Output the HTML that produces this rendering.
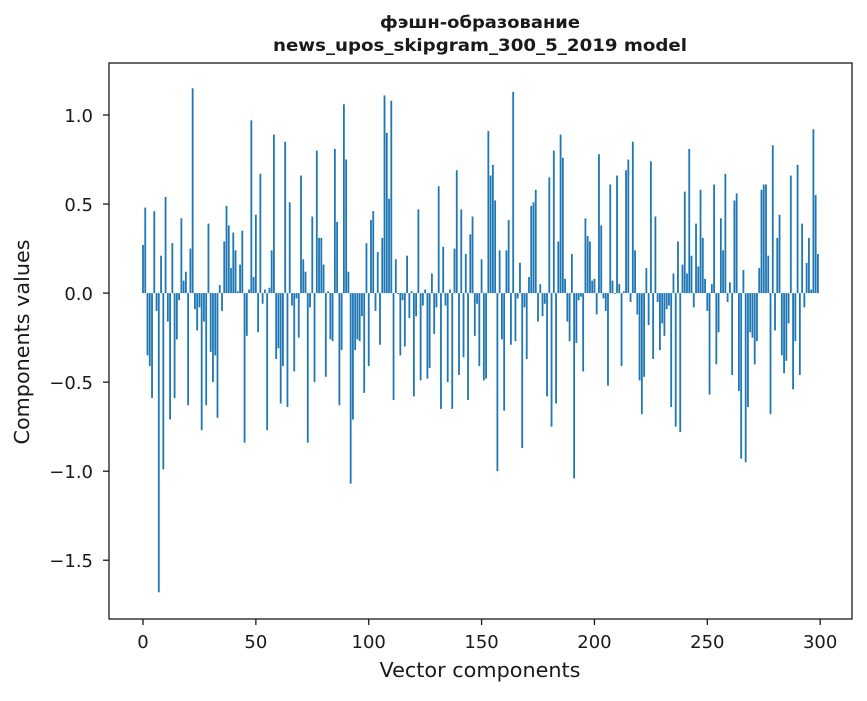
<!DOCTYPE html>
<html><head><meta charset="utf-8"><style>
body{margin:0;background:#fff;}
svg text{font-family:"DejaVu Sans","Liberation Sans",sans-serif;fill:#1a1a1a;}
</style></head><body>
<svg id="chart" width="867" height="696" xmlns="http://www.w3.org/2000/svg">
<rect width="867" height="696" fill="#fff"/>
<text x="480" y="28" text-anchor="middle" font-size="16.5" font-weight="bold" textLength="200" lengthAdjust="spacingAndGlyphs">фэшн-образование</text>
<text x="480" y="51" text-anchor="middle" font-size="16.5" font-weight="bold" textLength="414" lengthAdjust="spacingAndGlyphs">news_upos_skipgram_300_5_2019 model</text>
<g id="bars"></g>
<g id="axes"></g>
<text x="480" y="677" text-anchor="middle" font-size="20" textLength="201" lengthAdjust="spacingAndGlyphs">Vector components</text>
<text transform="translate(29,342) rotate(-90)" text-anchor="middle" font-size="20" textLength="205" lengthAdjust="spacingAndGlyphs">Components values</text>
</svg>
<script>
const values = [0.27,0.48,-0.35,-0.41,-0.59,0.46,-0.10,-1.68,0.21,-0.99,
0.54,-0.16,-0.71,0.28,-0.59,-0.26,-0.04,0.42,0.07,0.12,
-0.63,0.25,1.15,-0.09,-0.21,-0.08,-0.77,-0.16,-0.63,0.39,
-0.33,-0.50,-0.35,-0.70,0.045,-0.10,0.29,0.49,0.38,0.14,
0.34,0.24,0.01,0.16,0.35,-0.84,-0.24,0.02,0.97,0.09,
0.44,-0.22,0.67,-0.06,0.02,-0.77,0.03,0.24,0.89,-0.37,
-0.31,-0.62,-0.41,0.85,-0.64,0.51,-0.07,-0.44,-0.03,-0.25,
0.66,0.19,0.12,-0.84,-0.08,0.43,-0.50,0.80,0.31,0.31,
0.16,-0.47,0.01,-0.26,-0.27,0.81,0.40,-0.63,-0.32,1.06,
0.75,0.12,-1.07,-0.71,-0.32,-0.26,-0.27,-0.13,-0.56,0.28,
-0.41,0.41,0.46,-0.10,0.23,-0.29,0.31,1.11,0.90,0.53,
1.08,-0.60,0.19,-0.005,-0.35,-0.04,-0.30,0.21,-0.14,0.01,
-0.58,-0.13,0.47,-0.49,-0.07,0.02,-0.48,-0.42,0.11,-0.23,
-0.08,0.60,-0.65,0.26,-0.07,-0.50,0.02,-0.65,0.25,0.69,
-0.46,0.47,-0.36,0.22,-0.60,0.33,0.43,-0.24,-0.06,-0.41,
0.19,-0.49,-0.48,0.91,0.66,0.72,0.52,-1.00,0.24,-0.26,
-0.66,0.24,0.41,-0.29,1.13,-0.27,-0.03,0.17,-0.87,-0.08,
-0.37,0.09,0.49,0.51,0.58,-0.16,0.05,-0.13,-0.06,-0.58,
0.65,-0.75,0.80,-0.62,0.29,0.89,0.76,0.08,-0.16,-0.27,
0.22,-1.04,-0.28,-0.04,-0.02,-0.44,0.42,0.32,0.29,0.07,
0.08,-0.12,0.78,0.38,-0.03,-0.10,-0.52,0.61,0.07,-0.005,
0.66,0.05,-0.41,0.01,0.69,0.75,-0.05,0.85,0.24,-0.12,
-0.49,-0.68,-0.47,0.14,-0.18,0.74,-0.37,0.43,-0.05,-0.32,
-0.17,-0.24,-0.09,-0.07,-0.64,0.11,-0.75,0.29,-0.78,0.16,
0.57,0.11,0.81,0.21,-0.08,0.39,0.15,0.58,0.31,0.08,
-0.10,-0.57,0.05,0.61,-0.40,-0.22,0.42,0.24,0.67,-0.05,
0.06,-0.46,0.52,0.56,-0.55,-0.93,0.13,-0.95,-0.64,-0.22,
-0.25,-0.40,-0.27,0.14,0.58,0.61,0.61,0.21,-0.68,0.83,
-0.21,0.31,0.44,-0.35,-0.45,-0.38,-0.17,0.66,-0.54,-0.27,
0.72,-0.46,0.39,-0.08,0.17,0.31,0.02,0.92,0.55,0.22];
const xTicks = [0,50,100,150,200,250,300];
const yTicks = [1.0,0.5,0.0,-0.5,-1.0,-1.5];
const yTickLabels = ["1.0","0.5","0.0","\u22121.5".replace("1.5","0.5"),"\u22121.0","\u22121.5"];

const L=109,R=852,T=63,B=619;
const xMin=-15.06,xMax=314.1,yMin=-1.83,yMax=1.292;
const sx=v=>L+(v-xMin)/(xMax-xMin)*(R-L);
const sy=v=>T+(yMax-v)/(yMax-yMin)*(B-T);
const NS="http://www.w3.org/2000/svg";
const bars=document.getElementById('bars');
values.forEach((v,i)=>{
  const r=document.createElementNS(NS,'rect');
  const x0=sx(i-0.4),x1=sx(i+0.4);
  const y0=sy(Math.max(v,0)),y1=sy(Math.min(v,0));
  r.setAttribute('x',x0);r.setAttribute('width',x1-x0);
  r.setAttribute('y',y0);r.setAttribute('height',Math.max(y1-y0,0.3));
  r.setAttribute('fill','#1f77b4');
  
  
  bars.appendChild(r);
});
const axes=document.getElementById('axes');
const frame=document.createElementNS(NS,'rect');
frame.setAttribute('x',L);frame.setAttribute('y',T);
frame.setAttribute('width',R-L);frame.setAttribute('height',B-T);
frame.setAttribute('fill','none');frame.setAttribute('stroke','#1a1a1a');frame.setAttribute('stroke-width','1.3');


axes.appendChild(frame);
xTicks.forEach(t=>{
  const x=sx(t);
  const l=document.createElementNS(NS,'line');
  l.setAttribute('x1',x);l.setAttribute('x2',x);l.setAttribute('y1',B);l.setAttribute('y2',B+6);
  l.setAttribute('stroke','#1a1a1a');l.setAttribute('stroke-width','1.3');
  
  
  axes.appendChild(l);
  const tx=document.createElementNS(NS,'text');
  tx.setAttribute('x',x);tx.setAttribute('y',B+29);tx.setAttribute('text-anchor','middle');tx.setAttribute('font-size','18');
  tx.textContent=t;
  
  
  axes.appendChild(tx);
});
yTicks.forEach((t,i)=>{
  const y=sy(t);
  const l=document.createElementNS(NS,'line');
  l.setAttribute('x1',L-6);l.setAttribute('x2',L);l.setAttribute('y1',y);l.setAttribute('y2',y);
  l.setAttribute('stroke','#1a1a1a');l.setAttribute('stroke-width','1.3');
  
  
  axes.appendChild(l);
  const tx=document.createElementNS(NS,'text');
  tx.setAttribute('x',L-16);tx.setAttribute('y',y+7);tx.setAttribute('text-anchor','end');tx.setAttribute('font-size','18');
  tx.textContent=yTickLabels[i];
  
  
  axes.appendChild(tx);
});
</script>
</body></html>
